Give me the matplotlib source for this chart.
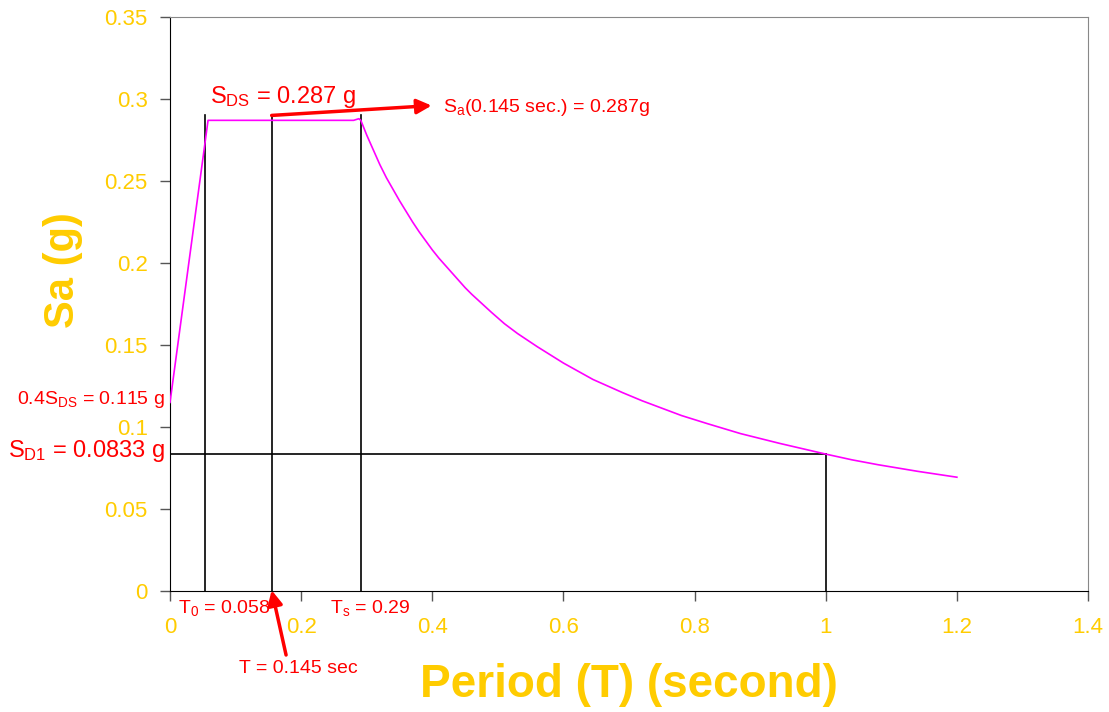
import matplotlib.pyplot as plt
import matplotlib as mpl

mpl.rcParams['font.family'] = ['Liberation Sans', 'DejaVu Sans']
mpl.rcParams['mathtext.fontset'] = 'custom'
mpl.rcParams['mathtext.rm'] = 'Liberation Sans'
mpl.rcParams['mathtext.it'] = 'Liberation Sans'

# design response spectrum
period = [0.0, 0.058, 0.10, 0.20, 0.28, 0.288, 0.291, 0.30, 0.31, 0.32, 0.33,
          0.34, 0.35, 0.37, 0.38, 0.40, 0.41, 0.43, 0.45, 0.46, 0.49, 0.51,
          0.53, 0.56, 0.60, 0.645, 0.69, 0.72, 0.78, 0.82, 0.87, 0.93, 1.0,
          1.04, 1.08, 1.14, 1.2]
sa = [0.115, 0.287, 0.287, 0.287, 0.287, 0.288, 0.287, 0.278, 0.269, 0.260, 0.252,
      0.245, 0.238, 0.225, 0.219, 0.208, 0.203, 0.194, 0.185, 0.181, 0.170, 0.163,
      0.157, 0.149, 0.139, 0.129, 0.121, 0.116, 0.107, 0.102, 0.096, 0.090, 0.0835,
      0.080, 0.077, 0.073, 0.0694]

# reference lines
t0_line = 0.054
t_line = 0.155
ts_line = 0.291
line_top = 0.290
sd1 = 0.0833
t1 = 1.0

x_ticks = [0, 0.2, 0.4, 0.6, 0.8, 1, 1.2, 1.4]
x_labels = ['0', '0.2', '0.4', '0.6', '0.8', '1', '1.2', '1.4']
y_ticks = [0, 0.05, 0.1, 0.15, 0.2, 0.25, 0.3, 0.35]
y_labels = ['0', '0.05', '0.1', '0.15', '0.2', '0.25', '0.3', '0.35']

GOLD = '#FFCC00'
RED = '#FF0000'

fig = plt.figure(figsize=(11.09, 7.12), dpi=100)
ax = fig.add_axes([0.1533, 0.1699, 0.8278, 0.8062])

ax.plot(period, sa, color='#FF00FF', lw=1.2, zorder=3)

for t in (t0_line, t_line, ts_line):
    ax.plot([t, t], [0, line_top], color='black', lw=1.2, zorder=2)
ax.plot([0, t1], [sd1, sd1], color='black', lw=1.2, zorder=2)
ax.plot([t1, t1], [0, sd1], color='black', lw=1.2, zorder=2)

ax.set_xlim(0, 1.4)
ax.set_ylim(0, 0.35)
ax.set_xticks(x_ticks)
ax.set_xticklabels(x_labels)
ax.set_yticks(y_ticks)
ax.set_yticklabels(y_labels)
ax.tick_params(axis='both', direction='out', length=7, width=1, color='#555555',
               labelcolor=GOLD, labelsize=16)
ax.tick_params(axis='x', pad=12)
ax.tick_params(axis='y', pad=9)
for s in ('top', 'right'):
    ax.spines[s].set_color('#888888')
for s in ('left', 'bottom'):
    ax.spines[s].set_color('black')

ax.set_xlabel('Period (T) (second)', fontsize=33, fontweight='bold', color=GOLD)
ax.xaxis.set_label_coords(0.5, -0.125)
ax.set_ylabel('Sa (g)', fontsize=30, fontweight='bold', color=GOLD)
ax.yaxis.set_label_coords(-0.095, 0.559)

# annotations
ax.text(0.061, 0.2976, r'S$_{\mathrm{DS}}$ = 0.287 g', color=RED, fontsize=17,
        va='baseline', clip_on=False)
ax.text(0.416, 0.2923, r'S$_{\mathrm{a}}$(0.145 sec.) = 0.287g', color=RED, fontsize=14,
        va='baseline', clip_on=False)
ax.text(-0.0076, 0.1138, r'0.4S$_{\mathrm{DS}}$ = 0.115 g', color=RED, fontsize=14,
        ha='right', va='baseline', clip_on=False)
ax.text(-0.0076, 0.0817, r'S$_{\mathrm{D1}}$ = 0.0833 g', color=RED, fontsize=17,
        ha='right', va='baseline', clip_on=False)
ax.text(0.0122, -0.0134, r'T$_{\mathrm{0}}$ = 0.058', color=RED, fontsize=14,
        va='baseline', clip_on=False)
ax.text(0.244, -0.0134, r'T$_{\mathrm{s}}$ = 0.29', color=RED, fontsize=14,
        va='baseline', clip_on=False)
ax.text(0.105, -0.050, 'T = 0.145 sec', color=RED, fontsize=14,
        va='baseline', clip_on=False)

arrow = dict(arrowstyle='-|>', color=RED, lw=2.5, mutation_scale=22,
             shrinkA=0, shrinkB=0)
ax.annotate('', xy=(0.399, 0.296), xytext=(t_line, line_top),
            arrowprops=arrow, annotation_clip=False)
ax.annotate('', xy=(t_line, 0.0005), xytext=(0.177, -0.039),
            arrowprops=arrow, annotation_clip=False)

fig.savefig('out.png', dpi=100)
